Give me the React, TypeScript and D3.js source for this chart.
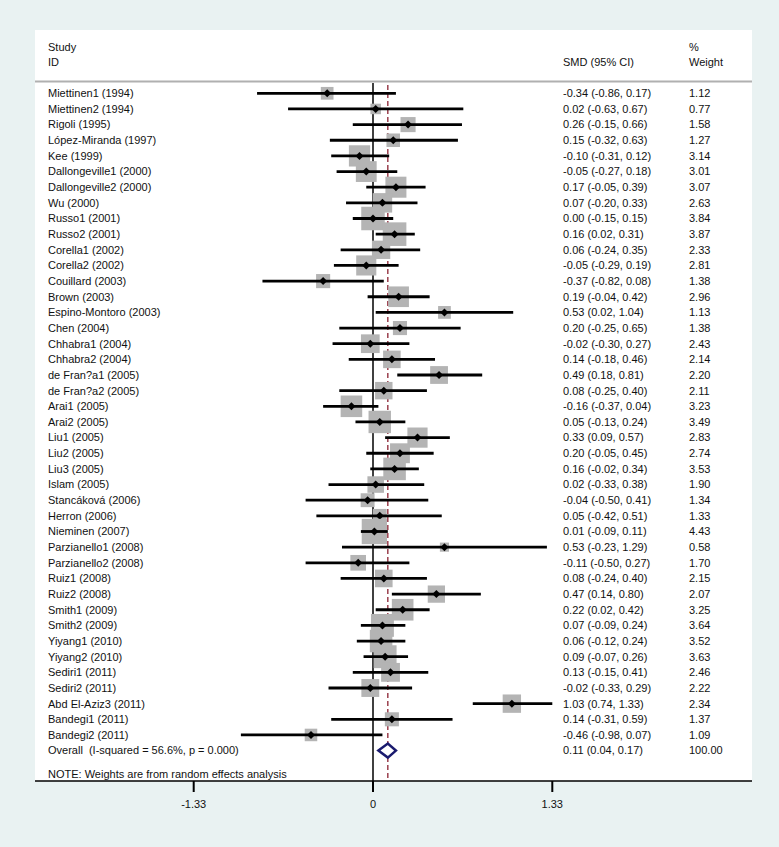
import React from "react";
import * as d3 from "d3";

const studies = [
  "Miettinen1 (1994)", "Miettinen2 (1994)", "Rigoli (1995)", "López-Miranda (1997)", "Kee (1999)",
  "Dallongeville1 (2000)", "Dallongeville2 (2000)", "Wu (2000)", "Russo1 (2001)", "Russo2 (2001)",
  "Corella1 (2002)", "Corella2 (2002)", "Couillard (2003)", "Brown (2003)", "Espino-Montoro (2003)",
  "Chen (2004)", "Chhabra1 (2004)", "Chhabra2 (2004)", "de Fran?a1 (2005)", "de Fran?a2 (2005)",
  "Arai1 (2005)", "Arai2 (2005)", "Liu1 (2005)", "Liu2 (2005)", "Liu3 (2005)",
  "Islam (2005)", "Stancáková (2006)", "Herron (2006)", "Nieminen (2007)", "Parzianello1 (2008)",
  "Parzianello2 (2008)", "Ruiz1 (2008)", "Ruiz2 (2008)", "Smith1 (2009)", "Smith2 (2009)",
  "Yiyang1 (2010)", "Yiyang2 (2010)", "Sediri1 (2011)", "Sediri2 (2011)", "Abd El-Aziz3 (2011)",
  "Bandegi1 (2011)", "Bandegi2 (2011)",
];
const smd = [
  -0.34, 0.02, 0.26, 0.15, -0.10, -0.05, 0.17, 0.07, 0.00, 0.16,
  0.06, -0.05, -0.37, 0.19, 0.53, 0.20, -0.02, 0.14, 0.49, 0.08,
  -0.16, 0.05, 0.33, 0.20, 0.16, 0.02, -0.04, 0.05, 0.01, 0.53,
  -0.11, 0.08, 0.47, 0.22, 0.07, 0.06, 0.09, 0.13, -0.02, 1.03,
  0.14, -0.46,
];
const lower = [
  -0.86, -0.63, -0.15, -0.32, -0.31, -0.27, -0.05, -0.20, -0.15, 0.02,
  -0.24, -0.29, -0.82, -0.04, 0.02, -0.25, -0.30, -0.18, 0.18, -0.25,
  -0.37, -0.13, 0.09, -0.05, -0.02, -0.33, -0.50, -0.42, -0.09, -0.23,
  -0.50, -0.24, 0.14, 0.02, -0.09, -0.12, -0.07, -0.15, -0.33, 0.74,
  -0.31, -0.98,
];
const upper = [
  0.17, 0.67, 0.66, 0.63, 0.12, 0.18, 0.39, 0.33, 0.15, 0.31,
  0.35, 0.19, 0.08, 0.42, 1.04, 0.65, 0.27, 0.46, 0.81, 0.40,
  0.04, 0.24, 0.57, 0.45, 0.34, 0.38, 0.41, 0.51, 0.11, 1.29,
  0.27, 0.40, 0.80, 0.42, 0.24, 0.24, 0.26, 0.41, 0.29, 1.33,
  0.59, 0.07,
];
const weights = [
  1.12, 0.77, 1.58, 1.27, 3.14, 3.01, 3.07, 2.63, 3.84, 3.87,
  2.33, 2.81, 1.38, 2.96, 1.13, 1.38, 2.43, 2.14, 2.20, 2.11,
  3.23, 3.49, 2.83, 2.74, 3.53, 1.90, 1.34, 1.33, 4.43, 0.58,
  1.70, 2.15, 2.07, 3.25, 3.64, 3.52, 3.63, 2.46, 2.22, 2.34,
  1.37, 1.09,
];
const overall = { label: "Overall  (I-squared = 56.6%, p = 0.000)", est: 0.11, lo: 0.04, hi: 0.17, weight: "100.00" };
const tickValues = [-1.33, 0, 1.33];
const tickLabels = ["-1.33", "0", "1.33"];

export default function App() {
  const W = 779, H = 847;
  const font = "'Liberation Sans', Arial, Helvetica, sans-serif";
  const fs = 11;
  const x = d3.scaleLinear().domain([-1.33, 1.33]).range([193.7, 552.3]);
  const nRows = studies.length + 1;
  const y = d3.scaleLinear().domain([0, nRows - 1]).range([93.3, 750.6]);
  const boxSide = (w: number) => 12 * Math.sqrt(w);
  const fmt = (v: number) => v.toFixed(2);
  const ciText = (e: number, l: number, u: number) => `${fmt(e)} (${fmt(l)}, ${fmt(u)})`;
  const plotTop = 30, plotBottom = 781, plotLeft = 35, plotRight = 752;
  const diamond = (cx: number, cy: number, r: number) =>
    `M${cx - r},${cy} L${cx},${cy - r} L${cx + r},${cy} L${cx},${cy + r} Z`;
  const oy = y(nRows - 1);
  const textProps = { fontFamily: font, fontSize: fs, fill: "#111", dy: "0.35em" } as any;

  return (
    <div style={{ position: "absolute", left: 0, top: 0 }}>
      <svg width={W} height={H} style={{ display: "block" }}>
        <rect x={0} y={0} width={W} height={H} fill="#e9f2f2" />
        <rect x={plotLeft} y={plotTop} width={plotRight - plotLeft} height={plotBottom - plotTop} fill="#ffffff" />
        {/* headers */}
        <text x={48} y={46.7} {...textProps}>Study</text>
        <text x={48} y={62.3} {...textProps}>ID</text>
        <text x={563} y={62.3} {...textProps}>SMD (95% CI)</text>
        <text x={689} y={46.7} {...textProps}>%</text>
        <text x={689} y={62.3} {...textProps}>Weight</text>
        <line x1={plotLeft} x2={plotRight} y1={81.5} y2={81.5} stroke="#b0b0b0" strokeWidth={2} />
        {/* zero line */}
        <line x1={x(0)} x2={x(0)} y1={83} y2={plotBottom} stroke="#000" strokeWidth={1.5} />
        {/* overall dashed line */}
        <line x1={x(overall.est)} x2={x(overall.est)} y1={85} y2={plotBottom} stroke="#8b2232" strokeWidth={1.3} strokeDasharray="5,3" />
        {/* studies */}
        {studies.map((s, i) => {
          const cy = y(i);
          const side = boxSide(weights[i]);
          const cx = x(smd[i]);
          return (
            <g key={s}>
              <rect x={cx - side / 2} y={cy - side / 2} width={side} height={side} fill="#b4b4b4" />
              <line x1={x(lower[i])} x2={x(upper[i])} y1={cy} y2={cy} stroke="#000" strokeWidth={2.8} />
              <path d={diamond(cx, cy, 4)} fill="#000" />
              <text x={48} y={cy} {...textProps}>{s}</text>
              <text x={563} y={cy} {...textProps}>{ciText(smd[i], lower[i], upper[i])}</text>
              <text x={689} y={cy} {...textProps}>{fmt(weights[i])}</text>
            </g>
          );
        })}
        {/* overall */}
        <path
          d={`M${x(overall.lo)},${oy} L${x(overall.est)},${oy - 7} L${x(overall.hi)},${oy} L${x(overall.est)},${oy + 7} Z`}
          fill="#fff" stroke="#1a1a6e" strokeWidth={2.5}
        />
        <text x={48} y={oy} {...textProps} style={{ whiteSpace: "pre" }}>{overall.label}</text>
        <text x={563} y={oy} {...textProps}>{ciText(overall.est, overall.lo, overall.hi)}</text>
        <text x={689} y={oy} {...textProps}>{overall.weight}</text>
        <text x={48} y={774} {...textProps}>NOTE: Weights are from random effects analysis</text>
        {/* axis */}
        <line x1={plotLeft} x2={plotRight} y1={plotBottom} y2={plotBottom} stroke="#000" strokeWidth={1.5} />
        {tickValues.map((t, i) => (
          <g key={t}>
            <line x1={x(t)} x2={x(t)} y1={plotBottom} y2={792} stroke="#000" strokeWidth={2} />
            <text x={x(t)} y={804} {...textProps} textAnchor="middle">{tickLabels[i]}</text>
          </g>
        ))}
      </svg>
    </div>
  );
}
